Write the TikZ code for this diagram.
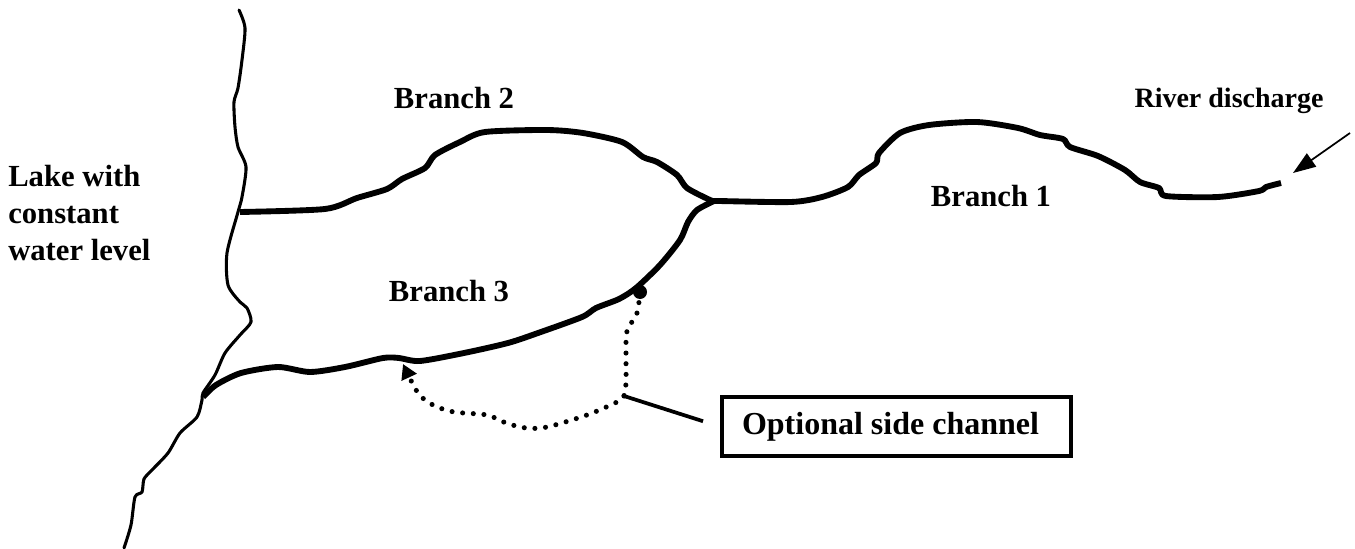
\documentclass[tikz,border=0pt]{standalone}
\usepackage{fontspec}
\setmainfont{Liberation Serif}
\usetikzlibrary{arrows.meta,positioning}

\begin{document}
\begin{tikzpicture}[x=0.75pt,y=-0.75pt,on grid,
    every node/.style={font=\fontsize{23}{27.5}\selectfont\bfseries}]
  \tikzstyle{shoreL}=[line width=2.3pt,line cap=round,line join=round]
  \tikzstyle{riverL}=[line width=4.4pt,line cap=butt,line join=round]
  \tikzstyle{dotL}=[line width=3.8pt,line cap=round,dash pattern=on 0pt off 8pt]
  \tikzstyle{nodeL}=[inner sep=0pt,align=left]
  \tikzstyle{nodeB}=[draw,line width=3.4pt,minimum width=262pt,minimum height=44pt]
  \useasboundingbox (0,0) rectangle (1355,549);

  \coordinate (c_lakeN) at (240,212);
  \coordinate (c_lakeS) at (203,397);
  \coordinate (c_fork)  at (714,201);
  \coordinate (c_side)  at (640,292);
  \coordinate (c_bend)  at (624,396);
  \coordinate (c_back)  at (403,364);
  \coordinate (c_inA)   at (1350,133);
  \coordinate (c_inB)   at (1293,173);

  \node[nodeL]          (n_b2)   at (454,98) {Branch 2};
  \node[nodeL]          (n_b3)   [below=145pt of n_b2,xshift=-3.75pt] {Branch 3};
  \node[nodeL]          (n_b1)   at (991,196) {Branch 1};
  \node[nodeL,font=\fontsize{21}{27}\selectfont\bfseries] (n_in) at (1229,101) {River discharge};
  \node[nodeL,anchor=west] (n_lake) at (8,213) {Lake with\\constant\\water level};
  \node[nodeB,font=\fontsize{24}{27}\selectfont\bfseries] (n_opt) at (896.5,426.5) {Optional side channel\kern9pt};
  \node[circle,fill,inner sep=0pt,minimum size=10.5pt] (n_dot) at (c_side) {};

  % lake shore
  \draw[shoreL] plot[smooth,tension=0.45] coordinates {(239,10) (245,28) (242,60) (238,88)
    (234,102) (235,127) (238,147) (246,167) (242,197) (238,212) (227,253) (228,285)
    (240,302) (247,308) (251,322) (240,335) (225,353) (215,375) (203,393) (202,400)
    (197,417) (180,433) (168,453) (152,470) (144,479) (142,492) (135,497) (131,525) (124,548)};

  % the three branches
  \draw[riverL] plot[smooth,tension=0.45] coordinates {(c_fork) (718,201) (791,202) (822,197)
    (848,187) (859,175) (876,163) (879,153) (900,133) (929,125) (977,122) (1018,128)
    (1040,135) (1063,139) (1070,147) (1098,156) (1125,170) (1140,182) (1159,188)
    (1166,196) (1218,197) (1259,191) (1266,187) (1281,183)};
  \draw[riverL] plot[smooth,tension=0.45] coordinates {(c_lakeN) (325,209) (357,198) (387,189)
    (402,179) (425,168) (435,155) (460,142) (485,132) (547,130) (583,133) (622,142)
    (643,157) (657,162) (677,175) (687,188) (710,200) (c_fork)};
  \draw[riverL] plot[smooth,tension=0.45] coordinates {(c_lakeS) (216,385) (241,373) (278,367) (310,372)
    (345,367) (383,358) (399,358) (420,361) (464,353) (508,343) (538,333) (582,317)
    (596,308) (619,299) (636,288) (660,265) (680,240) (688,222) (697,210) (c_fork)};

  % side channel
  \draw[dotL] plot[smooth,tension=0.5] coordinates {(n_dot) (637,313) (627,331) (626,352) (626,383) (c_bend)};
  \draw[dotL,-{Triangle[length=11pt,width=12pt]}] plot[smooth,tension=0.5] coordinates {(c_bend)
    (617,402) (587,415) (547,427) (526,428) (506,423) (487,415) (454,412) (433,405) (418,393) (c_back)};

  \draw[line width=2.8pt,shorten >=13pt] (c_bend) -- (n_opt.west);
  \draw[line width=1.3pt,-{Stealth[length=17pt,width=12pt,inset=0pt]}] (c_inA) -- (c_inB);
\end{tikzpicture}
\end{document}
